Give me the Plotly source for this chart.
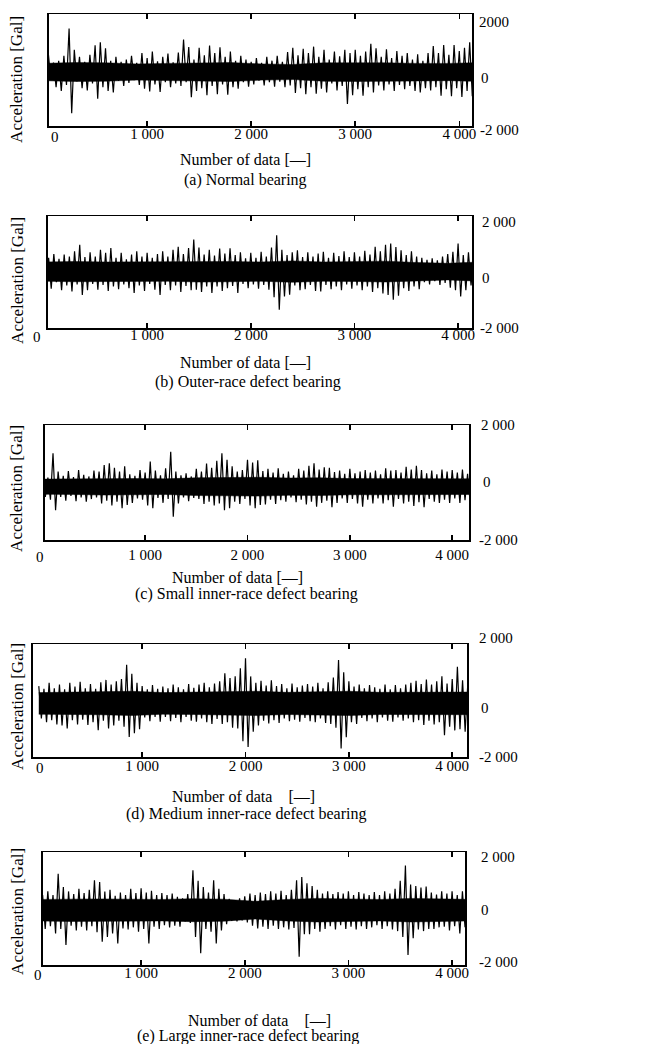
import numpy as np
import plotly.graph_objects as go

W, H = 651, 1044
SAMPLE_STEP = 25      # samples between successive plotted peaks
CORE_STEP = 300       # samples between successive core half-width readings

# Peak values [Gal], alternating upper / lower peaks every 25 samples
normal = [
    520, -380, 700, -300, 350, -560, 420, -700, 600, -480, 1610, -1525, 820, -350, 560, -600, 380, -680, 640, -420,
    990, -990, 1100, -560, 880, -700, 420, -760, 560, -330, 380, -520, 460, -400, 600, -300, 340, -480, 700, -620,
    520, -720, 760, -460, 400, -740, 560, -380, 680, -560, 360, -420, 720, -520, 1200, -380, 930, -930, 460, -700,
    900, -600, 620, -860, 980, -520, 700, -820, 920, -460, 560, -840, 760, -560, 420, -620, 600, -380, 460, -540,
    380, -460, 520, -320, 340, -500, 560, -380, 420, -540, 600, -360, 380, -560, 740, -500, 900, -780, 620, -600,
    860, -820, 700, -560, 940, -800, 560, -620, 820, -760, 460, -420, 760, -680, 580, -520, 820, -1180, 700, -860,
    820, -640, 600, -880, 760, -560, 1050, -760, 880, -500, 560, -680, 840, -460, 520, -700, 780, -480, 600, -640,
    700, -520, 460, -700, 660, -760, 420, -600, 700, -680, 960, -560, 700, -880, 1000, -640, 640, -900, 1000, -600,
    780, -920, 900, -700, 1100, -900, 820, -1050,
]
outer_race = [
    700, -420, 520, -640, 660, -400, 480, -700, 640, -520, 560, -740, 760, -480, 1000, -870, 540, -700, 720, -460,
    560, -680, 820, -500, 700, -720, 880, -560, 520, -660, 700, -480, 460, -620, 640, -800, 760, -520, 560, -720,
    700, -460, 520, -680, 660, -870, 760, -500, 560, -700, 820, -520, 930, -760, 660, -540, 880, -700, 1200, -680,
    900, -760, 640, -560, 820, -800, 600, -560, 860, -720, 680, -620, 870, -540, 620, -800, 720, -460, 500, -620,
    700, -480, 520, -640, 740, -500, 560, -680, 900, -960, 1360, -1430, 820, -930, 620, -860, 720, -520, 800, -700,
    540, -660, 720, -500, 560, -720, 680, -740, 740, -500, 520, -660, 700, -560, 580, -700, 760, -480, 540, -640,
    720, -520, 560, -700, 780, -560, 640, -760, 930, -620, 760, -820, 1000, -870, 1050, -1050, 920, -900, 800, -620,
    620, -720, 760, -560, 560, -660, 520, -400, 440, -480, 500, -360, 420, -500, 560, -420, 660, -600, 740, -700,
    1050, -930, 620, -700, 720, -520, 560, -660,
]
small_inner = [
    420, -380, 340, -480, 1240, -870, 560, -380, 400, -520, 580, -340, 360, -540, 620, -400, 440, -560, 380, -460,
    600, -400, 560, -620, 800, -520, 870, -700, 700, -560, 560, -800, 760, -680, 460, -600, 400, -440, 620, -480,
    520, -700, 930, -800, 600, -420, 420, -600, 680, -460, 1300, -1115, 560, -620, 420, -400, 500, -540, 380, -420,
    660, -460, 560, -640, 860, -560, 700, -700, 960, -620, 1240, -870, 1000, -800, 760, -560, 560, -640, 620, -460,
    1000, -700, 900, -800, 980, -680, 580, -660, 660, -480, 520, -640, 680, -500, 480, -560, 560, -400, 420, -580,
    660, -480, 600, -660, 780, -560, 870, -740, 640, -600, 720, -520, 700, -760, 540, -600, 600, -440, 480, -600,
    660, -460, 500, -620, 560, -740, 620, -480, 520, -620, 600, -440, 460, -620, 680, -500, 600, -740, 620, -460,
    520, -620, 740, -560, 640, -720, 780, -580, 620, -760, 500, -460, 600, -560, 460, -600, 640, -480, 560, -600,
    620, -440, 520, -600, 640, -500, 480, -580,
]
medium_inner = [
    640, -560, 540, -700, 760, -620, 560, -780, 700, -820, 520, -930, 760, -620, 620, -780, 800, -600, 560, -800,
    720, -700, 540, -990, 780, -640, 870, -930, 700, -820, 820, -640, 900, -860, 1430, -1240, 1100, -1100, 760, -960,
    640, -520, 520, -660, 680, -500, 540, -680, 620, -500, 560, -660, 700, -540, 600, -700, 520, -500, 720, -640,
    580, -680, 700, -560, 760, -700, 600, -760, 740, -580, 820, -760, 1120, -700, 940, -900, 1000, -930, 1300, -1400,
    1670, -1610, 1000, -1050, 760, -820, 840, -640, 660, -740, 860, -620, 640, -720, 720, -560, 560, -660, 740, -600,
    600, -680, 660, -540, 720, -660, 620, -700, 760, -560, 560, -720, 780, -760, 960, -900, 1610, -1670, 1150, -1250,
    820, -700, 620, -760, 700, -540, 560, -660, 680, -560, 600, -700, 540, -520, 700, -640, 520, -680, 680, -520,
    560, -640, 700, -560, 760, -700, 840, -620, 720, -800, 880, -640, 700, -780, 820, -700, 1000, -1180, 740, -860,
    900, -1000, 1360, -960, 860, -1050, 700, -820,
]
large_inner = [
    620, -520, 560, -700, 700, -600, 560, -870, 1360, -700, 860, -1300, 700, -580, 600, -760, 800, -620, 640, -760,
    760, -600, 1115, -820, 1050, -1180, 700, -1000, 760, -870, 540, -1240, 660, -680, 560, -720, 800, -640, 640, -800,
    820, -700, 660, -1240, 720, -620, 560, -700, 640, -560, 560, -640, 620, -580, 500, -620, 440, -420, 600, -480,
    1490, -1000, 1100, -1610, 860, -700, 660, -800, 1115, -1240, 800, -760, 600, -520, 420, -400, 360, -420, 440, -380,
    520, -460, 620, -580, 560, -680, 660, -620, 600, -700, 700, -580, 620, -700, 720, -640, 560, -720, 760, -660,
    1115, -1740, 1240, -900, 1000, -900, 900, -700, 760, -800, 620, -700, 700, -600, 600, -720, 680, -560, 620, -700,
    700, -620, 560, -720, 680, -600, 620, -700, 560, -640, 680, -560, 560, -700, 700, -600, 620, -720, 800, -780,
    1100, -1000, 1670, -1670, 960, -1050, 900, -720, 840, -780, 880, -700, 660, -700, 580, -640, 700, -620, 620, -760,
    700, -600, 560, -870, 700, -640, 600, -700,
]

# Half-width [Gal] of the solid dense core of each record, read every 300 samples (0 ... 4200)
normal_core = [320, 350, 340, 300, 320, 340, 350, 300, 280, 340, 350, 340, 320, 320, 350]
outer_race_core = [360, 380, 360, 370, 360, 390, 380, 360, 400, 360, 370, 390, 340, 310, 360]
small_inner_core = [280, 290, 310, 300, 290, 330, 340, 350, 320, 330, 300, 300, 310, 300, 290]
medium_inner_core = [400, 420, 420, 450, 400, 410, 420, 450, 410, 420, 450, 410, 410, 420, 420]
large_inner_core = [400, 420, 420, 410, 400, 430, 410, 330, 400, 440, 410, 400, 440, 410, 400]

series = [normal, outer_race, small_inner, medium_inner, large_inner]
cores = [normal_core, outer_race_core, small_inner_core, medium_inner_core, large_inner_core]
captions = [
    "(a) Normal bearing",
    "(b) Outer-race defect bearing",
    "(c) Small inner-race defect bearing",
    "(d) Medium inner-race defect bearing",
    "(e) Large inner-race defect bearing",
]
x_titles = [
    "Number of data [\u2014]",
    "Number of data [\u2014]",
    "Number of data [\u2014]",
    "Number of data \u00a0\u00a0\u00a0[\u2014]",
    "Number of data \u00a0\u00a0\u00a0[\u2014]",
]
y_title = "Acceleration [Gal]"
x_tick_vals = [1000, 2000, 3000, 4000]
x_tick_text = ["1 000", "2 000", "3 000", "4 000"]
y_tick_text = [
    ["2000", "0", "-2 000"],
    ["2 000", "0", "-2 000"],
    ["2 000", "0", "-2 000"],
    ["2 000", "0", "-2 000"],
    ["2 000", "0", "-2 000"],
]

# geometry (pixels): box left, right, top, bottom
boxes = [(49, 475, 14, 126), (48, 475, 216, 328), (45, 472, 425, 540), (33, 470, 644, 757), (43, 468, 852, 965)]
x_ranges = [[54, 4123], [41, 4135], [19, 4165], [-58, 4144], [51, 4126]]
y_ranges = [[-2000, 2150], [-2110, 2080], [-1980, 2290], [-1985, 2200], [-2045, 2170]]
zero_label_pos = [(55, 137), (37, 337), (40, 557), (40, 768), (38, 975)]
tick_standoff = [-7, -8, 0, -6, -7]
y_label_pos = [
    [(480, 22), (482, 78), (481, 130)],
    [(483, 222), (483, 278), (481, 328)],
    [(482, 425), (484, 482), (480, 540)],
    [(480, 638), (482, 708), (480, 757)],
    [(482, 857), (482, 910), (480, 962)],
]
x_title_pos = [(247, 160), (247, 363), (239, 577), (245, 796), (261, 1020)]
caption_pos = [(247, 180), (250, 382), (248, 594), (248, 814), (250, 1036)]
y_title_pos = [(17, 79), (17, 280), (17, 488), (17, 706), (17, 911)]

FONT = "Liberation Serif, Times New Roman, serif"

def px(x):
    return x / W

def py(y):
    return 1 - y / H

fig = go.Figure()
annotations = []
layout_axes = {}

for i, vals in enumerate(series):
    n = i + 1
    xa = "x" if n == 1 else f"x{n}"
    ya = "y" if n == 1 else f"y{n}"
    # solid dense core of the record
    core = np.array(cores[i], dtype=float)
    core_x = np.arange(len(core)) * CORE_STEP
    fig.add_trace(go.Scatter(
        x=np.concatenate([core_x, core_x[::-1]]),
        y=np.concatenate([core, -core[::-1]]),
        mode="lines", fill="toself", fillcolor="black",
        line=dict(color="black", width=0.5),
        xaxis=xa, yaxis=ya, showlegend=False, hoverinfo="skip"))
    # peaks of the record
    samples = np.arange(len(vals)) * SAMPLE_STEP
    fig.add_trace(go.Scatter(x=samples, y=vals, mode="lines",
                             line=dict(color="black", width=1.2),
                             xaxis=xa, yaxis=ya, showlegend=False, hoverinfo="skip"))
    l, r, t, b = boxes[i]
    layout_axes["xaxis" if n == 1 else f"xaxis{n}"] = dict(
        domain=[px(l), px(r)], range=x_ranges[i], anchor=ya,
        showline=True, mirror="ticks", linecolor="black", linewidth=1.5,
        ticks="inside", ticklen=5, tickwidth=1.5, tickcolor="black",
        tickvals=x_tick_vals, ticktext=x_tick_text,
        ticklabelstandoff=tick_standoff[i],
        tickfont=dict(family=FONT, size=15, color="black"),
        showgrid=False, zeroline=False, fixedrange=True,
    )
    layout_axes["yaxis" if n == 1 else f"yaxis{n}"] = dict(
        domain=[py(b), py(t)], range=y_ranges[i], anchor=xa,
        showline=True, mirror=True, linecolor="black", linewidth=1.5,
        ticks="", showticklabels=False, showgrid=False, zeroline=False, fixedrange=True,
    )
    zx, zy = zero_label_pos[i]
    annotations.append(dict(text="0", x=px(zx), y=py(zy), xref="paper", yref="paper",
                            showarrow=False, xanchor="center", yanchor="middle",
                            font=dict(family=FONT, size=15, color="black")))
    for txt, (lx, ly) in zip(y_tick_text[i], y_label_pos[i]):
        annotations.append(dict(text=txt, x=px(lx), y=py(ly), xref="paper", yref="paper",
                                showarrow=False, xanchor="left", yanchor="middle",
                                font=dict(family=FONT, size=15, color="black")))
    tx, ty = x_title_pos[i]
    annotations.append(dict(text=x_titles[i], x=px(tx), y=py(ty), xref="paper", yref="paper",
                            showarrow=False, xanchor="center", yanchor="middle",
                            font=dict(family=FONT, size=16, color="black")))
    cx, cy = caption_pos[i]
    annotations.append(dict(text=captions[i], x=px(cx), y=py(cy), xref="paper", yref="paper",
                            showarrow=False, xanchor="center", yanchor="middle",
                            font=dict(family=FONT, size=16, color="black")))
    yx, yy = y_title_pos[i]
    annotations.append(dict(text=y_title, x=px(yx), y=py(yy), xref="paper", yref="paper",
                            showarrow=False, xanchor="center", yanchor="middle", textangle=-90,
                            font=dict(family=FONT, size=17, color="black")))

fig.update_layout(
    width=W, height=H,
    margin=dict(l=0, r=0, t=0, b=0),
    paper_bgcolor="white", plot_bgcolor="white",
    annotations=annotations,
    showlegend=False,
    **layout_axes,
)

fig.write_html("out.html",
               config={"displayModeBar": False, "staticPlot": True},
               post_script="document.body.style.margin='0';document.body.style.padding='0';"
                           "document.body.style.overflow='hidden';")
